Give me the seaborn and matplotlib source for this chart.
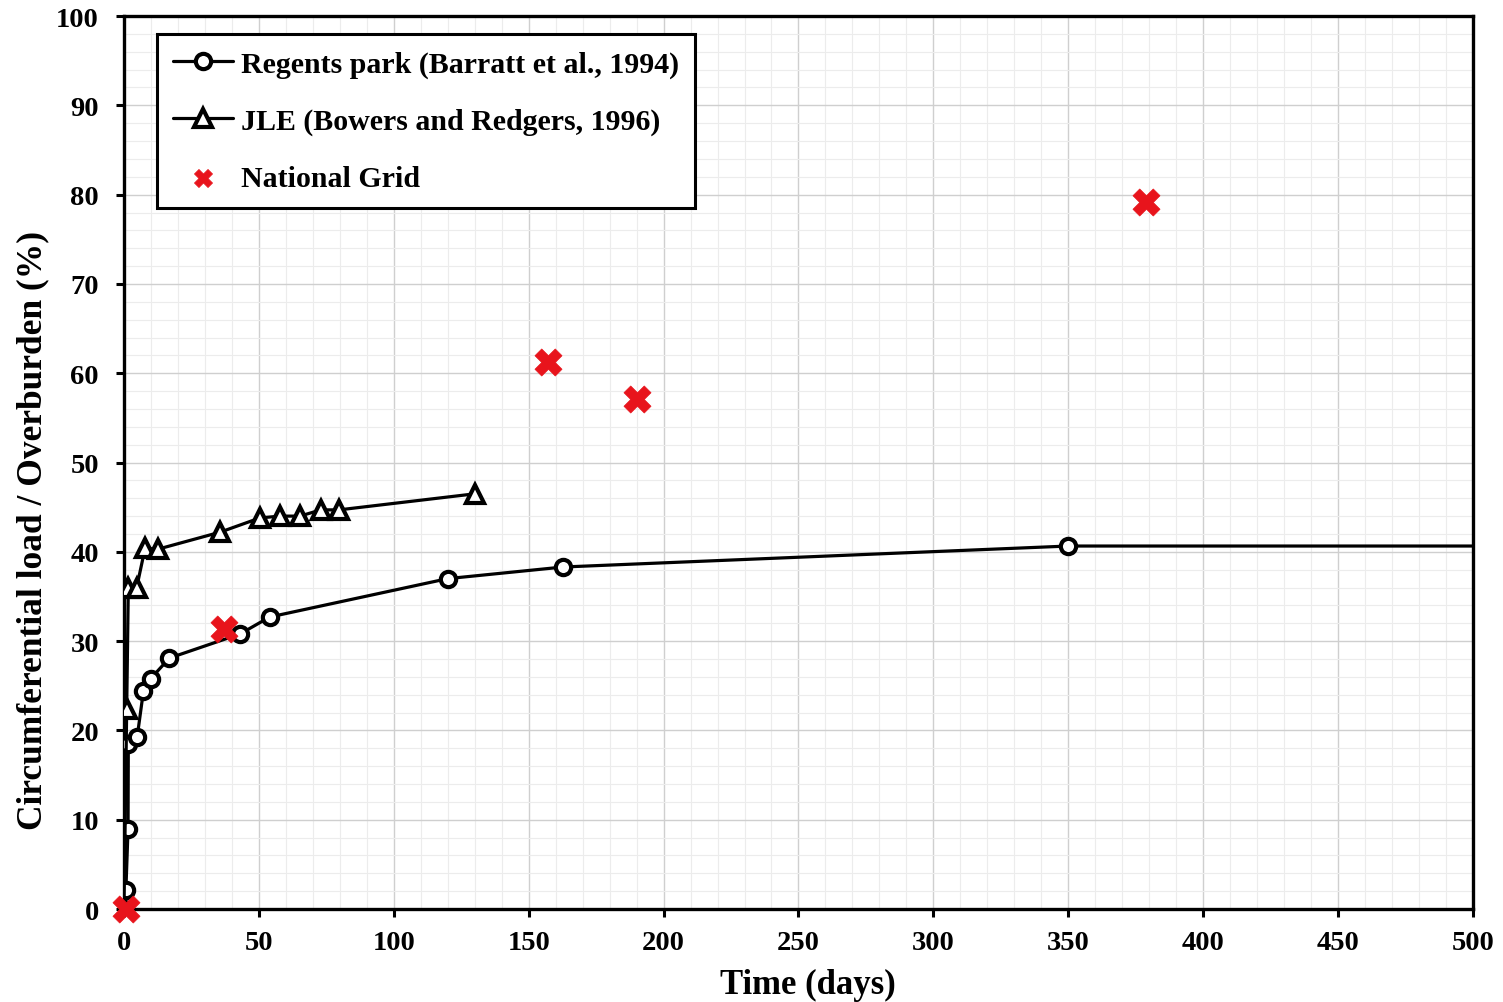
import matplotlib
matplotlib.use("Agg")
import matplotlib.pyplot as plt
from matplotlib.ticker import MultipleLocator
import seaborn as sns

# Regents park (Barratt et al., 1994) - last point lies past the axis so the line runs on to 500
regents_days = [0, 0.7, 1.5, 1.6, 4.9, 7.2, 9.9, 16.8, 43, 54, 120, 162.7, 350, 600]
regents_load = [0, 2.1, 9.0, 18.5, 19.3, 24.4, 25.8, 28.1, 30.8, 32.7, 37.0, 38.3, 40.65, 40.65]

# JLE (Bowers and Redgers, 1996)
jle_days = [0, 1.0, 1.6, 4.7, 7.8, 12.6, 35.6, 50.4, 57.8, 65.2, 73.0, 79.7, 130.1]
jle_load = [0, 22.4, 36.0, 36.0, 40.4, 40.3, 42.2, 43.8, 44.0, 44.0, 44.7, 44.7, 46.5]

# National Grid
ng_days = [0.7, 37, 157, 190, 379]
ng_load = [0, 31.4, 61.3, 57.1, 79.2]

sns.set_theme(style="whitegrid")
plt.rcParams['font.family'] = ['Liberation Serif', 'DejaVu Serif']
plt.rcParams['font.weight'] = 'bold'
plt.rcParams['text.color'] = 'black'
plt.rcParams['axes.labelcolor'] = 'black'
plt.rcParams['xtick.color'] = 'black'
plt.rcParams['ytick.color'] = 'black'

fig, ax = plt.subplots(figsize=(15.03, 10.03), dpi=100)
fig.subplots_adjust(left=0.0825, right=0.98, top=0.983, bottom=0.0927)

sns.lineplot(x=regents_days, y=regents_load, ax=ax, color='black', linewidth=2.3,
             marker='o', markersize=11, markerfacecolor='white',
             markeredgecolor='black', markeredgewidth=3,
             label='Regents park (Barratt et al., 1994)', zorder=3)
sns.lineplot(x=jle_days, y=jle_load, ax=ax, color='black', linewidth=2.3,
             marker='^', markersize=13, markerfacecolor='white',
             markeredgecolor='black', markeredgewidth=3,
             label='JLE (Bowers and Redgers, 1996)', zorder=3)
sns.scatterplot(x=ng_days, y=ng_load, ax=ax, color='#e8141c', marker='X', s=380,
                edgecolor='#e8141c', linewidth=0.5, label='National Grid', zorder=4,
                clip_on=False)

ax.set_xlim(0, 500)
ax.set_ylim(0, 100)
ax.xaxis.set_major_locator(MultipleLocator(50))
ax.xaxis.set_minor_locator(MultipleLocator(10))
ax.yaxis.set_major_locator(MultipleLocator(10))
ax.yaxis.set_minor_locator(MultipleLocator(2))

ax.grid(which='major', color='#cfcfcf', linewidth=1.0)
ax.grid(which='minor', color='#ececec', linewidth=0.8)
ax.set_facecolor('white')
for sp in ax.spines.values():
    sp.set_color('black')
    sp.set_linewidth(2.4)

ax.tick_params(axis='both', which='major', direction='out', length=6, width=2.2,
               color='black', labelsize=20.5, bottom=True, left=True)
ax.tick_params(axis='x', which='major', pad=9)
ax.tick_params(axis='y', which='major', pad=12)
ax.tick_params(axis='both', which='minor', length=0)
for lab in ax.get_xticklabels() + ax.get_yticklabels():
    lab.set_fontweight('bold')

ax.set_xlabel('Time (days)', fontsize=25, fontweight='bold')
ax.set_ylabel('Circumferential load / Overburden (%)', fontsize=25.5, fontweight='bold')
ax.xaxis.set_label_coords(0.507, -0.066)
ax.yaxis.set_label_coords(-0.055, 0.425)

leg = ax.legend(loc='upper left', bbox_to_anchor=(0.0245, 0.98), fontsize=21.5,
                frameon=True, fancybox=False, framealpha=1, edgecolor='black',
                handlelength=2.0, handletextpad=0.25, borderpad=0.55, labelspacing=1.0,
                borderaxespad=0)
leg.get_frame().set_linewidth(2.2)
leg.legend_handles[2].set_sizes([170])
for t in leg.get_texts():
    t.set_fontweight('bold')

plt.savefig('out.png', dpi=100)
